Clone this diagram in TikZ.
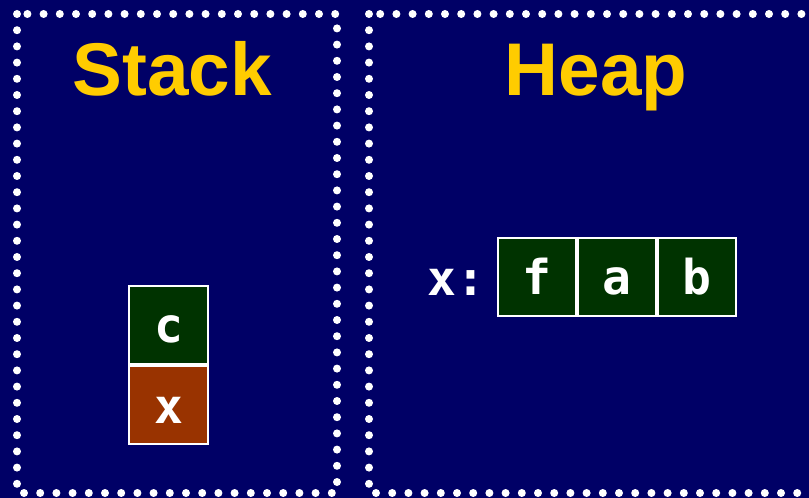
\documentclass[tikz,border=0pt]{standalone}
\usepackage{fontspec}
\setmainfont{Liberation Sans}
\newfontfamily\cellfont{DejaVu Sans Mono}
\definecolor{navy}{RGB}{0,0,102}
\definecolor{titleyellow}{RGB}{255,204,0}
\definecolor{cellgreen}{RGB}{0,51,0}
\definecolor{cellorange}{RGB}{153,51,0}
\tikzset{
  panel/.style={draw=white, line width=6pt, line cap=round, dash pattern=on 0pt off 12.15pt},
  titletext/.style={text=titleyellow, font=\fontsize{56}{60}\selectfont\bfseries, anchor=base},
  cell/.style={draw=white, line width=1.5pt, minimum width=59pt, minimum height=59pt, inner sep=0pt, text height=27pt, text depth=0pt, text=white, font=\fontsize{36}{40}\selectfont\cellfont\bfseries},
  label/.style={text=white, font=\fontsize{36}{40}\selectfont\cellfont\bfseries, anchor=base}
}
\begin{document}
\begin{tikzpicture}[x=0.75pt,y=-0.75pt]
\fill[navy] (0,0) rectangle (809,498);
\useasboundingbox (0,0) rectangle (809,498);
% panels
\draw[panel] (17,14) rectangle (337,493);
\draw[panel] (369,14) rectangle (819,493);
% titles
\node[titletext] (stacktitle) at (172,96) {Stack};
\node[titletext] (heaptitle) at (596,96) {Heap};
% stack cells
\node[cell, fill=cellgreen] (c) at (168.5,325) {c};
\node[cell, fill=cellorange] (x) at (168.5,405) {x};
% heap
\node[label] (xlabel) at (456,296) {x:};
\node[cell, fill=cellgreen] (f) at (537,277) {f};
\node[cell, fill=cellgreen] (a) at (617,277) {a};
\node[cell, fill=cellgreen] (b) at (697,277) {b};
\end{tikzpicture}
\end{document}
